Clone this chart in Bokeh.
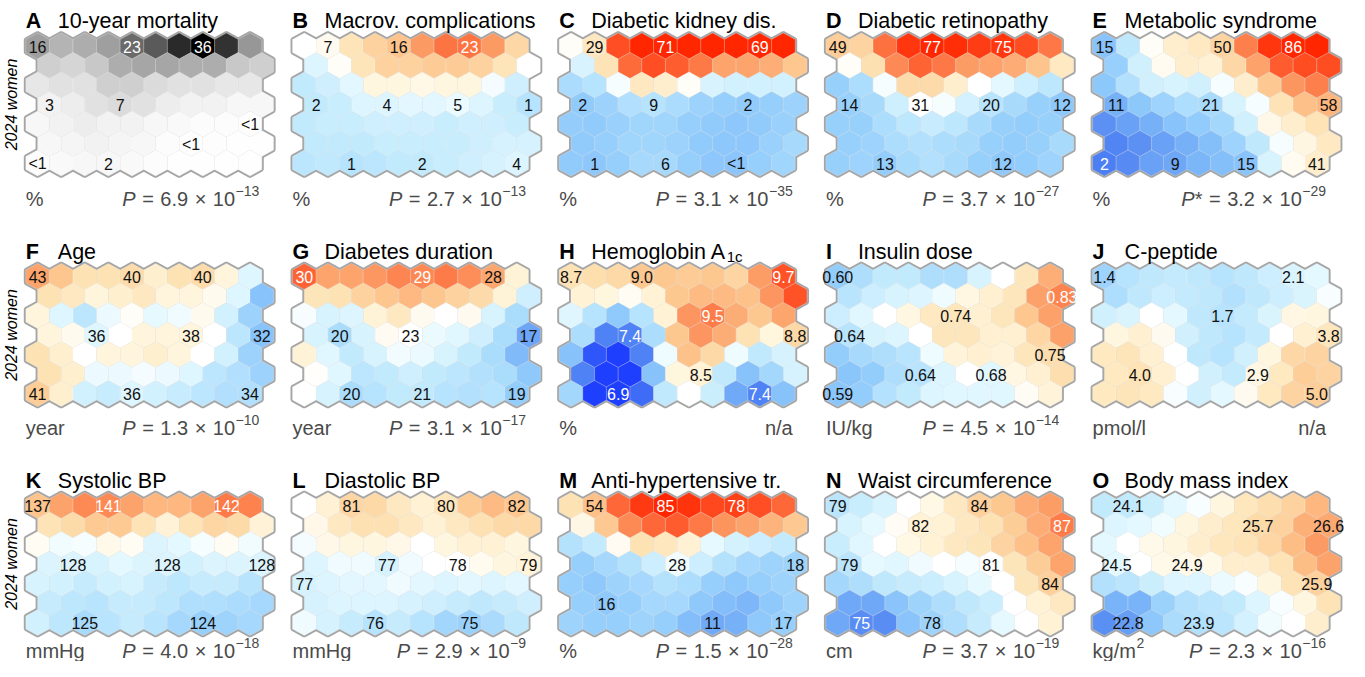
import math
from bokeh.plotting import figure
from bokeh.models import Range1d, ColumnDataSource
from bokeh.core.properties import value
from bokeh.embed import file_html
from bokeh.resources import INLINE

# ------------------------------------------------------------------ data
letters = ["A", "B", "C", "D", "E", "F", "G", "H", "I", "J", "K", "L", "M", "N", "O"]
titles = ["10-year mortality", "Macrov. complications", "Diabetic kidney dis.",
          "Diabetic retinopathy", "Metabolic syndrome", "Age", "Diabetes duration",
          "Hemoglobin A", "Insulin dose", "C-peptide", "Systolic BP", "Diastolic BP",
          "Anti-hypertensive tr.", "Waist circumference", "Body mass index"]
title_subscripts = ["", "", "", "", "", "", "", "1c", "", "", "", "", "", "", ""]
units = ["%", "%", "%", "%", "%", "year", "year", "%", "IU/kg", "pmol/l",
         "mmHg", "mmHg", "%", "cm", "kg/m"]
unit_superscripts = ["", "", "", "", "", "", "", "", "", "", "", "", "", "", "2"]
p_symbols = ["P", "P", "P", "P", "P*", "P", "P", "", "P", "", "P", "P", "P", "P", "P"]
p_mantissas = ["6.9", "2.7", "3.1", "3.7", "3.2", "1.3", "3.1", "", "4.5", "",
               "4.0", "2.9", "1.5", "3.7", "2.3"]
p_exponents = ["\u221213", "\u221213", "\u221235", "\u221227", "\u221229", "\u221210",
               "\u221217", "", "\u221214", "", "\u221218", "\u22129", "\u221228",
               "\u221219", "\u221216"]
side_label = "2024 women"

mortality = [
    [16, 13, 14, 16, 23, 25, 31, 36, 30, 17],
    [9, 8, 10, 14, 15, 15, 14, 14, 10, 9],
    [5, 6, 6, 9, 9, 7, 6, 6, 5, 5],
    [3, 4, 6, 7, 6, 4, 3, 3, 2, 2],
    [2, 3, 4, 3, 3, 2, 1.5, 1, 0.8, 0.5],
    [2, 2.5, 3, 2.5, 2, 1, 0.5, 0.5, 0.3, 0.3],
    [0.8, 1.5, 2, 2, 1.5, 0.8, 0.3, 0.3, 0.3, 0.3]]
macrovascular = [
    [6, 7, 11, 14, 16, 20, 23, 23, 20, 13],
    [4, 6.5, 11, 14, 14, 15, 15, 14, 11, 6],
    [2, 3, 4.5, 8, 8, 7.5, 8, 8, 5.5, 3],
    [2, 2.5, 4, 4, 4.5, 4.5, 5, 4, 2.5, 1],
    [2, 2.5, 2.5, 3, 3, 3, 2.5, 3, 3, 2.5],
    [2, 2, 2, 2.5, 2.5, 2.5, 2.5, 3, 3.5, 3.5],
    [1.5, 1.8, 1, 1.5, 2, 2, 2.5, 3, 3.5, 4]]
kidney = [
    [21, 29, 60, 70, 71, 70, 68, 68, 69, 66],
    [15, 31, 56, 60, 58, 54, 47, 47, 45, 40],
    [7, 9, 19, 29, 27, 21, 15, 14, 14, 14],
    [2, 4, 8, 9, 7, 4, 3, 2, 3, 4],
    [2.5, 2, 3.5, 5, 5, 3, 2, 1, 2, 3.5],
    [2, 3, 5, 5, 4, 2, 1, 1, 3.5, 6],
    [2, 1, 3, 6, 6, 3, 1, 0.5, 3, 5]]
retinopathy = [
    [49, 47, 67, 75, 77, 76, 74, 75, 72, 66],
    [32, 43, 63, 69, 66, 60, 59, 57, 52, 40],
    [14, 18, 30, 45, 45, 38, 31, 28, 24, 21],
    [14, 17, 24, 31, 30, 25, 20, 17, 14, 12],
    [14, 14, 18, 21, 23, 21, 17, 14, 13, 14],
    [14, 15, 18, 19, 18, 17, 14, 13, 14, 17],
    [14, 15, 13, 17, 19, 17, 14, 12, 13, 15]]
metabolic = [
    [15, 25, 35, 41, 43, 50, 68, 78, 86, 80],
    [18, 28, 36, 41, 40, 49, 62, 73, 75, 75],
    [16, 23, 28, 29, 28, 33, 41, 54, 64, 68],
    [11, 16, 19, 22, 21, 29, 33, 45, 56, 58],
    [5, 8, 11, 15, 17, 20, 28, 37, 41, 45],
    [3, 5, 8, 11, 14, 19, 25, 33, 38, 43],
    [2, 4, 8, 9, 12, 14, 15, 29, 36, 41]]
age = [
    [43, 41.5, 39.5, 39.5, 40, 38.5, 39.5, 40, 38, 36],
    [39.5, 39, 38, 38.5, 39, 38, 38, 37.5, 36, 32],
    [38, 36, 34.5, 36.5, 37.2, 36.3, 36.6, 37.5, 35.5, 33],
    [38, 37.5, 36, 37, 38, 38, 38, 37, 34.5, 32],
    [39.5, 38.5, 37, 38, 38, 38.5, 38, 37, 35.5, 33],
    [39.5, 38.5, 36.5, 36.5, 36.7, 36.5, 36, 34.5, 34, 33],
    [41, 38.5, 35.5, 35, 36, 35.5, 35, 34.5, 34, 34]]
duration = [
    [30, 28.1, 28.1, 28.5, 29.1, 29, 29.4, 28.8, 28, 24],
    [24.9, 25.1, 26.1, 26.8, 27.3, 26.8, 26.1, 25.6, 24.0, 21.5],
    [22.8, 21.8, 22, 24.0, 24.7, 23.4, 23, 23.4, 21.8, 20],
    [21.8, 20, 21.8, 23.3, 23, 22.5, 22.2, 21.5, 20, 17],
    [24.0, 22.2, 21, 21.8, 22.7, 22.5, 21.8, 21, 20, 18],
    [23.1, 22.2, 20.7, 21, 21.5, 21, 20.7, 20.3, 20, 18.8],
    [23, 21.8, 20, 20.5, 21, 21, 20.5, 20.3, 20.5, 19]]
hba1c = [
    [8.7, 8.75, 8.8, 9.0, 9.0, 8.95, 9.0, 8.85, 9.3, 9.7],
    [8.5, 8.45, 8.35, 8.5, 9.0, 9.1, 9.1, 9.05, 9.35, 9.7],
    [8.2, 8.0, 7.8, 8.0, 8.5, 9.35, 9.5, 9.2, 9.0, 9.25],
    [7.95, 7.4, 7.4, 7.95, 9.0, 9.35, 9.2, 8.7, 8.45, 8.8],
    [7.75, 7.2, 7.05, 7.4, 8.25, 9.05, 8.8, 8.25, 8.05, 8.15],
    [7.4, 7.0, 7.05, 7.75, 8.45, 8.5, 8.05, 7.75, 7.9, 8.15],
    [7.9, 7.05, 6.9, 7.3, 8.05, 8.3, 8.1, 7.6, 7.4, 7.75]]
insulin = [
    [0.60, 0.63, 0.65, 0.65, 0.63, 0.63, 0.67, 0.70, 0.74, 0.80],
    [0.64, 0.66, 0.67, 0.675, 0.69, 0.715, 0.725, 0.74, 0.81, 0.83],
    [0.66, 0.68, 0.70, 0.715, 0.735, 0.74, 0.725, 0.74, 0.78, 0.81],
    [0.64, 0.67, 0.675, 0.70, 0.74, 0.74, 0.725, 0.725, 0.76, 0.81],
    [0.60, 0.62, 0.63, 0.64, 0.69, 0.72, 0.725, 0.72, 0.74, 0.75],
    [0.59, 0.60, 0.63, 0.64, 0.675, 0.70, 0.68, 0.715, 0.725, 0.75],
    [0.59, 0.60, 0.635, 0.65, 0.675, 0.68, 0.68, 0.68, 0.705, 0.72]]
cpeptide = [
    [1.4, 1.7, 1.8, 1.85, 1.8, 1.7, 1.8, 1.95, 2.1, 2.2],
    [1.6, 1.8, 1.95, 1.85, 1.8, 1.65, 1.8, 1.95, 2.1, 2.35],
    [2.0, 2.1, 2.4, 2.2, 1.8, 1.7, 1.85, 2.1, 2.9, 3.0],
    [3.0, 3.3, 2.7, 2.0, 1.8, 1.7, 1.85, 2.4, 3.3, 3.8],
    [3.7, 3.9, 3.3, 2.4, 1.8, 1.7, 2.0, 3.0, 4.5, 4.7],
    [3.7, 4.0, 3.3, 2.4, 2.0, 1.85, 2.9, 3.7, 5.0, 4.7],
    [3.7, 3.9, 3.7, 2.35, 2.0, 2.2, 2.7, 3.7, 4.7, 5.0]]
systolic = [
    [137, 139.5, 141, 141, 139.5, 138, 138, 139.5, 142, 141.5],
    [133.5, 134.5, 136.5, 136.5, 133.5, 131.5, 133.5, 135, 134.5, 131.5],
    [130, 129, 129.2, 130.5, 130, 128, 128.5, 129.2, 130, 129],
    [128, 128, 127.8, 128.5, 128, 128, 127.5, 128, 128, 128],
    [127.8, 127.5, 126.8, 127.5, 127.8, 126.8, 126.3, 126.8, 126.8, 126],
    [126.8, 126.3, 126, 126.8, 126.8, 126.3, 125.5, 125.5, 125.2, 124.8],
    [127.5, 126.3, 125, 126, 126.8, 126, 124.8, 124, 124.4, 124.8]]
diastolic = [
    [78, 79.2, 81, 80.8, 79.8, 79.2, 80, 81.8, 82.5, 82],
    [78.6, 79.8, 80.3, 80.3, 79.8, 79.2, 79.8, 80.3, 80.8, 80.8],
    [77.8, 78.6, 78.8, 78.8, 78.6, 78, 78.8, 79.2, 79.2, 78.8],
    [77.2, 77.7, 77.7, 77, 77.7, 78, 78, 78.4, 78.8, 79],
    [77, 77.2, 77.4, 77.4, 77.7, 77.4, 77.2, 77.4, 77.2, 77.4],
    [77, 77.2, 77.2, 77.2, 77, 76.8, 76.5, 76.3, 76.5, 76.8],
    [77.7, 77, 76.5, 76, 76.5, 76, 75.3, 75, 75.6, 76.3]]
antihypertensive = [
    [42, 54, 72, 79, 85, 80, 77, 78, 76, 72],
    [33, 52, 66, 72, 74, 69, 64, 61, 57, 52],
    [21, 23, 31, 42, 40, 36, 27, 25, 24, 23],
    [17, 19, 21, 24, 28, 24, 21, 19, 18, 18],
    [17, 16, 18, 19, 21, 20, 17, 16, 17, 18],
    [17, 16, 17, 19, 19, 16, 14, 13, 16, 18],
    [18, 17, 17, 18, 17, 14, 11, 12, 16, 17]]
waist = [
    [79, 79.5, 80, 81, 81.6, 82.6, 84, 84.5, 85.5, 86],
    [80, 80.5, 81.2, 82, 82, 82.6, 83, 84.2, 85.5, 87],
    [79.5, 80.3, 81, 81.6, 82, 82.6, 82.8, 83.8, 84.8, 85.8],
    [79, 80.5, 80.3, 80.7, 81, 80.8, 81, 82.8, 84.2, 85.8],
    [78.2, 78.6, 79.2, 79.4, 79.6, 80, 80.5, 81, 82.8, 84],
    [76, 76, 77.2, 78, 78.6, 79.2, 79.6, 81, 82, 82.6],
    [76, 75, 75, 77.2, 78, 78.6, 79.4, 80.5, 81, 82]]
bmi = [
    [24.1, 24.1, 24.2, 24.5, 24.65, 25.0, 25.4, 25.6, 25.9, 26.4],
    [24.4, 24.5, 24.6, 25.0, 25.2, 25.4, 25.7, 25.9, 26.5, 26.6],
    [24.5, 24.7, 24.9, 25.0, 25.2, 25.4, 25.5, 25.8, 26.3, 26.8],
    [24.5, 24.7, 24.9, 24.9, 24.9, 25.2, 25.2, 25.5, 26.3, 26.7],
    [23.9, 24.0, 24.2, 24.4, 24.4, 24.55, 24.65, 25.0, 25.5, 25.9],
    [23.1, 23.1, 23.6, 23.9, 24.0, 24.1, 24.4, 24.65, 25.0, 25.5],
    [22.6, 22.8, 23.4, 23.8, 23.9, 24.0, 24.3, 24.6, 24.7, 25.2]]
grids = [mortality, macrovascular, kidney, retinopathy, metabolic, age, duration,
         hba1c, insulin, cpeptide, systolic, diastolic, antihypertensive, waist, bmi]

# labelled cells: (row, column, text)
mortality_labels = [(0, 0, "16"), (0, 4, "23"), (0, 7, "36"), (3, 0, "3"), (3, 3, "7"),
                    (4, 9, "<1"), (5, 6, "<1"), (6, 0, "<1"), (6, 3, "2")]
macrovascular_labels = [(0, 1, "7"), (0, 4, "16"), (0, 7, "23"), (3, 0, "2"), (3, 3, "4"),
                        (3, 6, "5"), (3, 9, "1"), (6, 2, "1"), (6, 5, "2"), (6, 9, "4")]
kidney_labels = [(0, 1, "29"), (0, 4, "71"), (0, 8, "69"), (3, 0, "2"), (3, 3, "9"),
                 (3, 7, "2"), (6, 1, "1"), (6, 4, "6"), (6, 7, "<1")]
retinopathy_labels = [(0, 0, "49"), (0, 4, "77"), (0, 7, "75"), (3, 0, "14"), (3, 3, "31"),
                      (3, 6, "20"), (3, 9, "12"), (6, 2, "13"), (6, 7, "12")]
metabolic_labels = [(0, 0, "15"), (0, 5, "50"), (0, 8, "86"), (3, 0, "11"), (3, 4, "21"),
                    (3, 9, "58"), (6, 0, "2"), (6, 3, "9"), (6, 6, "15"), (6, 9, "41")]
age_labels = [(0, 0, "43"), (0, 4, "40"), (0, 7, "40"), (3, 2, "36"), (3, 6, "38"),
              (3, 9, "32"), (6, 0, "41"), (6, 4, "36"), (6, 9, "34")]
duration_labels = [(0, 0, "30"), (0, 5, "29"), (0, 8, "28"), (3, 1, "20"), (3, 4, "23"),
                   (3, 9, "17"), (6, 2, "20"), (6, 5, "21"), (6, 9, "19")]
hba1c_labels = [(0, 0, "8.7"), (0, 3, "9.0"), (0, 9, "9.7"), (2, 6, "9.5"), (3, 2, "7.4"),
                (3, 9, "8.8"), (5, 5, "8.5"), (6, 2, "6.9"), (6, 8, "7.4")]
insulin_labels = [(0, 0, "0.60"), (1, 9, "0.83"), (2, 5, "0.74"), (3, 0, "0.64"),
                  (4, 9, "0.75"), (5, 3, "0.64"), (5, 6, "0.68"), (6, 0, "0.59")]
cpeptide_labels = [(0, 0, "1.4"), (0, 8, "2.1"), (2, 5, "1.7"), (3, 9, "3.8"),
                   (5, 1, "4.0"), (5, 6, "2.9"), (6, 9, "5.0")]
systolic_labels = [(0, 0, "137"), (0, 3, "141"), (0, 8, "142"), (3, 1, "128"), (3, 5, "128"),
                   (3, 9, "128"), (6, 2, "125"), (6, 7, "124")]
diastolic_labels = [(0, 2, "81"), (0, 6, "80"), (0, 9, "82"), (3, 3, "77"), (3, 6, "78"),
                    (3, 9, "79"), (4, 0, "77"), (6, 3, "76"), (6, 7, "75")]
antihypertensive_labels = [(0, 1, "54"), (0, 4, "85"), (0, 7, "78"), (3, 4, "28"),
                           (3, 9, "18"), (5, 1, "16"), (6, 6, "11"), (6, 9, "17")]
waist_labels = [(0, 0, "79"), (0, 6, "84"), (1, 3, "82"), (1, 9, "87"), (3, 0, "79"),
                (3, 6, "81"), (4, 9, "84"), (6, 1, "75"), (6, 4, "78")]
bmi_labels = [(0, 1, "24.1"), (1, 6, "25.7"), (1, 9, "26.6"), (3, 0, "24.5"), (3, 3, "24.9"),
              (4, 9, "25.9"), (6, 1, "22.8"), (6, 4, "23.9")]
label_sets = [mortality_labels, macrovascular_labels, kidney_labels, retinopathy_labels,
              metabolic_labels, age_labels, duration_labels, hba1c_labels, insulin_labels,
              cpeptide_labels, systolic_labels, diastolic_labels, antihypertensive_labels,
              waist_labels, bmi_labels]

# ------------------------------------------------------------------ colour scales (style)
# (value shown deepest blue, value shown white, value shown deepest red)
color_scales = [(0, 0, 36), (-14, 6, 28), (-24, 20, 65), (-14, 31, 77), (-8, 34, 80),
                (26, 37, 47), (13, 23, 31.5), (7.1, 8.3, 9.9), (0.45, 0.70, 0.88),
                (-0.4, 2.4, 9.0), (115, 129.5, 146), (70, 78, 87), (-2, 29, 82),
                (72.5, 81, 89), (21.7, 24.7, 28.0)]
stops = [(-1.00, "#1f3fff"), (-0.85, "#3a68f6"), (-0.70, "#5a8ff3"), (-0.55, "#76b1f8"),
         (-0.40, "#93cdfc"), (-0.20, "#c2eafd"), (-0.06, "#e6f9ff"), (0.00, "#ffffff"),
         (0.10, "#fff5dc"), (0.25, "#fde2b3"), (0.45, "#fdc68e"), (0.60, "#fca46c"),
         (0.75, "#fd7c49"), (0.90, "#ff4a20"), (1.00, "#ff2600")]


def hex_rgb(h):
    return tuple(int(h[i:i + 2], 16) for i in (1, 3, 5))


def diverging(t):
    t = max(-1.0, min(1.0, t))
    for (t0, c0), (t1, c1) in zip(stops[:-1], stops[1:]):
        if t0 <= t <= t1:
            f = (t - t0) / (t1 - t0) if t1 > t0 else 0
            a, b = hex_rgb(c0), hex_rgb(c1)
            return "#%02x%02x%02x" % tuple(round(a[k] + f * (b[k] - a[k])) for k in range(3))
    return stops[-1][1]


def cell_style(panel, v):
    lo, mid, hi = color_scales[panel]
    if panel == 0:
        d = max(0.0, min(1.0, v / hi)) ** 1.2
        g = round(255 * (1 - d))
        return "#%02x%02x%02x" % (g, g, g), ("white" if d > 0.5 else "#111111")
    t = (v - mid) / (hi - mid) if v >= mid else (v - mid) / (mid - lo)
    t = max(-1.0, min(1.0, t))
    return diverging(t), ("white" if (t > 0.68 or t < -0.66) else "#111111")


# ------------------------------------------------------------------ layout
# data units are page pixels; the figure sits at the page's 8px margin
W, H = 1349, 661
OFF = 8
COL_X0 = [33.3 + 266.7 * k for k in range(5)]
ROW_Y0 = [53.5, 284.0, 513.0]
FOOT_DY = [152.7, 151.5, 145.0]
HW, RV, DY = 11.8, 13.0, 19.5
FONT = value("Liberation Sans")
GREY_TXT = "#4a4a4a"

AW = {"0": 556, "1": 556, "2": 556, "3": 556, "4": 556, "5": 556, "6": 556, "7": 556,
      "8": 556, "9": 556, ".": 278, " ": 278, "=": 584, "\u00d7": 584, "\u2212": 584,
      "P": 667, "*": 389, "n": 556, "/": 278, "a": 556, "k": 500, "g": 556, "m": 833,
      "H": 722, "e": 556, "o": 556, "l": 222, "b": 556, "i": 222, "A": 667}


def tw(s, size):
    return sum(AW.get(ch, 556) for ch in s) * size / 1000.0


p = figure(width=W, height=H, x_range=Range1d(OFF, OFF + W), y_range=Range1d(OFF + H, OFF),
           output_backend="svg", toolbar_location=None, min_border=0,
           x_axis_location=None, y_axis_location=None)
p.grid.visible = False
p.outline_line_color = None
p.background_fill_color = "white"
p.border_fill_color = "white"

cell_xs, cell_ys, cell_fill = [], [], []
lab_x, lab_y, lab_t, lab_c = [], [], [], []
for i, grid in enumerate(grids):
    x0 = COL_X0[i % 5]
    y0 = ROW_Y0[i // 5]
    centers = {}
    for r, row in enumerate(grid):
        for c, v in enumerate(row):
            cx = x0 + HW + 2 * HW * c + HW * (r % 2)
            cy = y0 + DY * r
            centers[(r, c)] = (cx, cy)
            fill, _ = cell_style(i, v)
            cell_xs.append([cx, cx + HW, cx + HW, cx, cx - HW, cx - HW])
            cell_ys.append([cy - RV, cy - RV / 2, cy + RV / 2, cy + RV, cy + RV / 2, cy - RV / 2])
            cell_fill.append(fill)
    for (r, c, txt) in label_sets[i]:
        cx, cy = centers[(r, c)]
        _, tcol = cell_style(i, grid[r][c])
        lab_x.append(cx)
        lab_y.append(cy + 0.5)
        lab_t.append(txt)
        lab_c.append(tcol)

cells = ColumnDataSource(dict(xs=cell_xs, ys=cell_ys, fill=cell_fill))
p.patches("xs", "ys", source=cells, fill_color="#a5a5a5", line_color="#a5a5a5", line_width=4)
p.patches("xs", "ys", source=cells, fill_color="fill", line_color="white",
          line_alpha=0.35, line_width=0.6)
p.text(lab_x, lab_y, text=lab_t, text_color=lab_c, text_font=FONT, text_font_size="16px",
       text_align="center", text_baseline="middle")

# titles, side labels, footers
TS = 21.5
FS = 20
ES = 14
for i in range(15):
    x0 = COL_X0[i % 5]
    y0 = ROW_Y0[i // 5]
    tb = y0 - 25
    p.text([x0], [tb], text=[letters[i]], text_font=FONT, text_font_size=f"{TS}px",
           text_font_style="bold", text_color="black", text_baseline="alphabetic")
    p.text([x0 + 32], [tb], text=[titles[i]], text_font=FONT, text_font_size=f"{TS}px",
           text_color="black", text_baseline="alphabetic")
    if title_subscripts[i]:
        p.text([x0 + 32 + tw(titles[i], TS) + 0.5], [tb + 5], text=[title_subscripts[i]],
               text_font=FONT, text_font_size="15px", text_color="black",
               text_baseline="alphabetic")
    fb = y0 + FOOT_DY[i // 5]
    p.text([x0], [fb], text=[units[i]], text_font=FONT, text_font_size=f"{FS}px",
           text_color=GREY_TXT, text_baseline="alphabetic")
    if unit_superscripts[i]:
        p.text([x0 + tw(units[i], FS) + 0.5], [fb - 8], text=[unit_superscripts[i]],
               text_font=FONT, text_font_size=f"{ES}px", text_color=GREY_TXT,
               text_baseline="alphabetic")
    right = x0 + 233.5
    if not p_symbols[i]:
        p.text([right], [fb], text=["n/a"], text_font=FONT, text_font_size=f"{FS}px",
               text_color=GREY_TXT, text_align="right", text_baseline="alphabetic")
        continue
    gap = 6.5
    x = right - tw(p_exponents[i], ES)
    p.text([x], [fb - 8], text=[p_exponents[i]], text_font=FONT, text_font_size=f"{ES}px",
           text_color=GREY_TXT, text_baseline="alphabetic")
    pieces = ["10", "\u00d7", p_mantissas[i], "="]
    x -= 0.5
    for k, piece in enumerate(pieces):
        p.text([x], [fb], text=[piece], text_font=FONT, text_font_size=f"{FS}px",
               text_color=GREY_TXT, text_align="right", text_baseline="alphabetic")
        x -= tw(piece, FS) + gap
    if p_symbols[i].endswith("*"):
        p.text([x], [fb], text=["*"], text_font=FONT, text_font_size=f"{FS}px",
               text_color=GREY_TXT, text_align="right", text_baseline="alphabetic")
        x -= tw("*", FS)
    p.text([x], [fb], text=["P"], text_font=FONT, text_font_size=f"{FS}px",
           text_font_style="italic", text_color=GREY_TXT, text_align="right",
           text_baseline="alphabetic")

for k in range(3):
    p.text([18.5], [ROW_Y0[k] + 3 * DY], text=[side_label], angle=math.pi / 2,
           text_font=FONT, text_font_size="16px", text_font_style="italic",
           text_color="black", text_align="center", text_baseline="middle")

open("out.html", "w").write(file_html(p, INLINE))
